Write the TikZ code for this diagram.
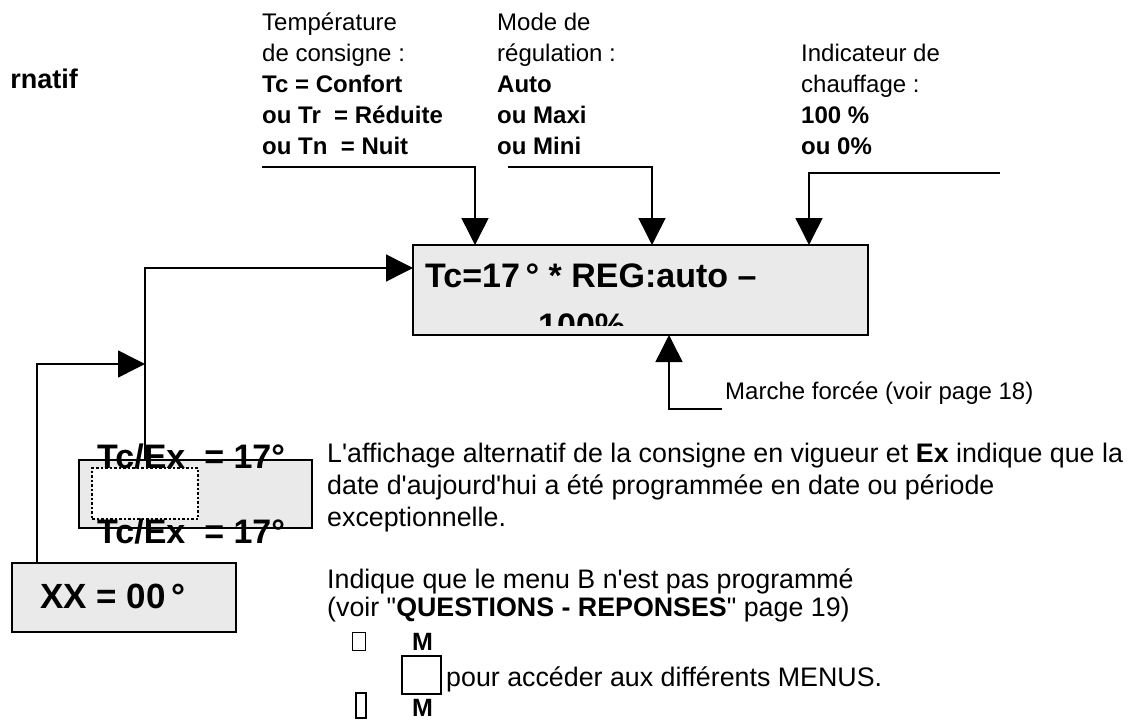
\documentclass[tikz,border=0pt]{standalone}
\usepackage{fontspec}
\setmainfont{Liberation Sans}[Ligatures=TeXOff]
\usetikzlibrary{arrows.meta}
\definecolor{lcd}{HTML}{EAEAEA}
\begin{document}
\begin{tikzpicture}[x=1pt,y=-1pt,
 lbl/.style={anchor=north west, inner sep=0pt, align=left, font=\fontsize{24}{31}\selectfont},
 body/.style={anchor=base west, inner sep=0pt, font=\fontsize{26.8}{32}\selectfont},
 disp/.style={anchor=base west, inner sep=0pt, font=\fontsize{34}{36}\selectfont\bfseries},
 lcdbox/.style={draw, line width=2pt, fill=lcd, inner sep=0pt, outer sep=0pt},
 conn/.style={line width=1.5pt},
 arr/.style={conn, -{Triangle[length=27pt,width=27pt]}},
 keyM/.style={anchor=base west, inner sep=0pt, font=\fontsize{25}{28}\selectfont\bfseries},
]
\useasboundingbox[fill=white] (0,0) rectangle (1134,725);

% cut-off title
\node[anchor=base east, inner sep=0pt, font=\fontsize{27}{30}\selectfont\bfseries] (alt) at (78,88) {rnatif};

% top labels
\node[lbl] (l1) at (262,13) {Température\\de consigne :\\\textbf{Tc = Confort}\\\textbf{ou Tr\ \ = Réduite}\\\textbf{ou Tn\ \ = Nuit}};
\node[lbl] (l2) at (497,13) {Mode de\\régulation :\\\textbf{Auto}\\\textbf{ou Maxi}\\\textbf{ou Mini}};
\node[lbl] (l3) at (801,44) {Indicateur de\\chauffage :\\\textbf{100 \%}\\\textbf{ou 0\%}};

% main display
\node[lcdbox, minimum width=455pt, minimum height=90pt] (main) at (640.5,290) {};
\node[disp] (m1) at (425,287) {Tc=17\,° * REG:auto –};
\begin{scope}
\clip (413,245) rectangle (868,325);
\node[disp] (m2) at (538,337) {100\%};
\end{scope}

% connectors from labels
\coordinate (c1) at (262,167);
\coordinate (c2) at (508,167);
\coordinate (c3) at (1000,173);
\draw[arr] (c1) -| ([xshift=62pt]main.north west);
\draw[arr] (c2) -| ([xshift=239pt]main.north west);
\draw[arr] (c3) -| ([xshift=396pt]main.north west);

% marche forcee
\node[anchor=base west, inner sep=0pt, font=\fontsize{24}{28}\selectfont] (mf) at (725,399) {Marche forcée (voir page 18)};
\coordinate (mfe) at (722,409);
\draw[arr] (mfe) -| ([xshift=256pt]main.south west);

% left boxes
\node[lcdbox, minimum width=233pt, minimum height=68pt] (tcex) at (195.5,494) {};
\node[lcdbox, minimum width=224pt, minimum height=69pt] (xx) at (124,597.5) {};
\coordinate (j) at (145,364);
\draw[arr] ([xshift=66pt]tcex.north west) |- ([yshift=22pt]main.west);
\draw[arr] ([xshift=25pt]xx.north west) |- (j);
\node[draw, line width=1.6pt, fill=white, dash pattern=on 2.5pt off 2pt, minimum width=106pt, minimum height=51pt, inner sep=0pt] (dot) at (145,493.5) {};
\node[disp] (te1) at (97,468) {Tc/Ex\ \ = 17°};
\node[disp] (te2) at (97,543) {Tc/Ex\ \ = 17°};
\node[disp, font=\fontsize{35}{36}\selectfont\bfseries] (xxt) at (40,608) {XX = 00\,°};

% body text
\node[body] (t1) at (327,462) {L'affichage alternatif de la consigne en vigueur et \textbf{Ex} indique que la};
\node[body] (t2) at (327,494) {date d'aujourd'hui a été programmée en date ou période};
\node[body] (t3) at (327,526) {exceptionnelle.};
\node[body] (t4) at (327,588) {Indique que le menu B n'est pas programmé};
\node[body] (t5) at (327,616) {(voir "\textbf{QUESTIONS - REPONSES}" page 19)};

% menu keys
\draw[line width=1pt] (352,632) rectangle (365,650);
\node[keyM] (mk1) at (412,650) {M};
\node[draw, line width=1.5pt, fill=white, minimum width=39pt, minimum height=38pt, inner sep=0pt] (mb) at (421.5,675) {};
\node[body] (t6) at (446,686) {pour accéder aux différents MENUS.};
\draw[line width=2.2pt] (356,693) rectangle (366,718);
\node[keyM] (mk2) at (412,716) {M};
\end{tikzpicture}
\end{document}
